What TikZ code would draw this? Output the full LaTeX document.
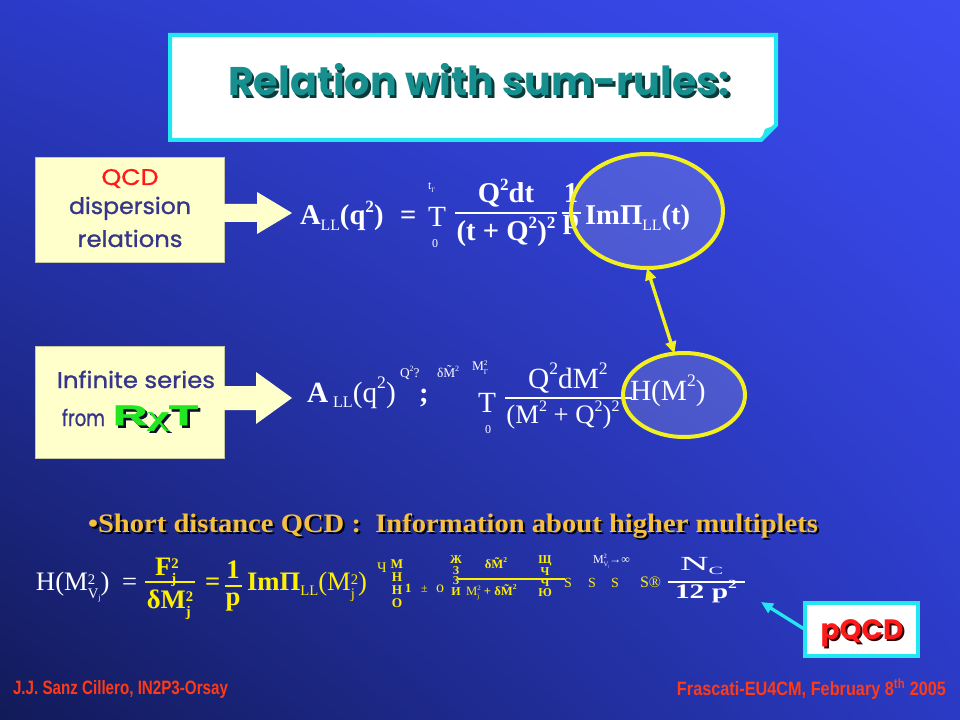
\documentclass[tikz,border=0pt]{standalone}
\usepackage{fontspec}
\usepackage{graphicx}
\setmainfont{Liberation Serif}
\newfontfamily\comic{Poppins}
\newfontfamily\comicf{Poppins}[FakeBold=1]
\newfontfamily\arialf{Liberation Sans}
\newfontfamily\arialfb{Liberation Sans Bold}[FakeBold=2]
\usetikzlibrary{arrows.meta,shapes.geometric,shadings}
\definecolor{bgUL}{HTML}{2B3BC8}
\definecolor{bgUR}{HTML}{3C4CF2}
\definecolor{bgLL}{HTML}{121A58}
\definecolor{bgLR}{HTML}{2A3AC4}
\definecolor{cyanb}{HTML}{22E6F0}
\definecolor{ttlcol}{HTML}{178F8F}
\definecolor{ttlshadow}{HTML}{0B3A3A}
\definecolor{boxfill}{HTML}{FFFFCC}
\definecolor{boxline}{HTML}{C8C8A0}
\definecolor{boxtext}{HTML}{35358A}
\definecolor{qcdred}{HTML}{FF1A1A}
\definecolor{rxtgreen}{HTML}{22E622}
\definecolor{yel}{HTML}{F2F020}
\definecolor{gold}{HTML}{F5C040}
\definecolor{fyel}{HTML}{FFF000}
\definecolor{footred}{HTML}{FF3A14}
\definecolor{shadowc}{HTML}{0A0F30}
\makeatletter
\newcommand\hi[1]{\raisebox{0.45em}{\fontsize{\fpeval{0.6*\f@size}}{0}\selectfont #1}}
\newcommand\lo[1]{\raisebox{-0.2em}{\fontsize{\fpeval{0.55*\f@size}}{0}\selectfont #1}}
\newcommand\stk[2]{\raisebox{-0.3em}{\fontsize{\fpeval{0.55*\f@size}}{\fpeval{0.6*\f@size}}\selectfont\shortstack[l]{#1\\#2}}}
\makeatother
\begin{document}
\begin{tikzpicture}[x=0.75pt,y=-0.75pt,
  every node/.style={inner sep=0pt, outer sep=0pt},
  fb/.style={text=white, font=\bfseries\fontsize{21.5}{24}\selectfont},
  fr/.style={text=white, font=\fontsize{22}{24}\selectfont},
  sm/.style={text=white, font=\fontsize{9}{10}\selectfont},
  bw/.style={text=white, font=\fontsize{20}{22}\selectfont},
  bwb/.style={text=white, font=\bfseries\fontsize{20}{22}\selectfont},
  byb/.style={text=fyel, font=\bfseries\fontsize{20}{22}\selectfont},
  byr/.style={text=fyel, font=\fontsize{10.5}{12}\selectfont},
  bys/.style={text=fyel, font=\bfseries\fontsize{9.5}{10}\selectfont},
  stack/.style={align=center, text=fyel, font=\bfseries\fontsize{9}{7.8}\selectfont},
  ybox/.style={draw=boxline, line width=0.6pt, fill=boxfill},
  boxtxt/.style={text=boxtext, font=\comicf\fontsize{17}{19}\selectfont, anchor=base},
  oval/.style={ellipse, draw=yel, line width=3pt, fill=white, fill opacity=0.15},
  fracbar/.style={line width=1pt},
]
\useasboundingbox (0,0) rectangle (960,720);
\shade[upper left=bgUL, upper right=bgUR, lower left=bgLL, lower right=bgLR] (0,0) rectangle (960,720);

% title
\draw[fill=white, draw=cyanb, line width=3pt] (170,35) -- (776,35) -- (776,125) -- (761,140) -- (170,140) -- cycle;
\fill[cyanb] (761,140) -- (776,125) -- (765,129) -- cycle;
\node[anchor=base, text=ttlshadow, font=\comic\bfseries\fontsize{30}{32}\selectfont] (titles) at (481.5,98.5) {\resizebox{376.5pt}{\height}{Relation with sum-rules:}};
\node[anchor=base, text=ttlcol, font=\comic\bfseries\fontsize{30}{32}\selectfont] (title) at (479,96) {\resizebox{376.5pt}{\height}{Relation with sum-rules:}};

% left boxes
\node[ybox, minimum width=141.75pt, minimum height=78.75pt] (qbox) at (129.5,209.5) {};
\fill[boxfill] (222,204) -- (257,204) -- (257,192) -- (292,213) -- (257,234) -- (257,222) -- (222,222) -- cycle;
\node[boxtxt, text=qcdred] (q1) at (130,185) {\resizebox{42.75pt}{\height}{QCD}};
\node[boxtxt] (q2) at (130,214) {\resizebox{91.5pt}{\height}{dispersion}};
\node[boxtxt] (q3) at (130,247) {\resizebox{78.75pt}{\height}{relations}};

\node[ybox, minimum width=141.75pt, minimum height=84pt] (rbox) at (129.5,402) {};
\fill[boxfill] (222,386) -- (256,386) -- (256,372) -- (292,398) -- (256,424) -- (256,410) -- (222,410) -- cycle;
\node[boxtxt] (i1) at (136,388) {\resizebox{118.5pt}{\height}{Infinite series}};
\node[boxtxt, anchor=base west] (i2) at (62,426) {\resizebox{32.25pt}{\height}{from}};
\node[anchor=base west, text=shadowc, font=\arialfb\fontsize{21}{22}\selectfont] (i3s) at (115.5,427.5) {\resizebox{63.75pt}{\height}{R{\rmfamily\bfseries χ}T}};
\node[anchor=base west, text=rxtgreen, font=\arialfb\fontsize{21}{22}\selectfont] (i3) at (113,425) {\resizebox{63.75pt}{\height}{R{\rmfamily\bfseries χ}T}};

% formula 1
\node[fb, anchor=base west] (f1A) at (300,225) {A\lo{\mdseries LL}(q\hi{2})};
\node[fb, anchor=base west] (f1eq) at (400,225) {=};
\node[fr, anchor=base west] (f1int) at (428,227) {T};
\node[sm, anchor=base west] (f1up) at (428,190) {t\lo{Γ}};
\node[sm, anchor=base west] (f1lo) at (432,248) {0};
\node[fb, anchor=base] (f1num) at (506,203) {Q\hi{2}dt};
\draw[white, fracbar] (455,213) -- (557,213);
\node[fb, anchor=base] (f1den) at (506,241) {(t + Q\hi{2})\hi{2}};
\node[fb, anchor=base] (f1one) at (571,203) {1};
\draw[white, fracbar] (562,213) -- (581,213);
\node[fb, anchor=base] (f1p) at (571,229) {p};
\node[fb, anchor=base west] (f1im) at (585,225) {ImΠ\lo{\mdseries LL}(t)};

% formula 2
\node[fr, anchor=base west] (f2A) at (307,402) {{\bfseries A}\,\lo{LL}(q\hi{2})};
\node[sm, anchor=base west, font=\fontsize{10}{11}\selectfont] (f2q) at (400,377) {Q\hi{2}?};
\node[sm, anchor=base west, font=\fontsize{10}{11}\selectfont] (f2dm) at (437,377) {δ\~{M}\hi{2}};
\node[sm, anchor=base west, font=\fontsize{10}{11}\selectfont] (f2mg) at (472,370) {M\stk{2}{Γ}};
\node[fb, anchor=base west] (f2semi) at (419,402) {;};
\node[fr, anchor=base west] (f2int) at (478,412) {T};
\node[sm, anchor=base west] (f2zero) at (485,433) {0};
\node[fr, anchor=base] (f2num) at (568,388) {Q\hi{2}dM\hi{2}};
\draw[white, fracbar] (505,398) -- (632,398);
\node[fr, anchor=base, font=\fontsize{20}{22}\selectfont] (f2den) at (563,423) {(M\hi{2} + Q\hi{2})\hi{2}};
\node[fr, anchor=base west] (f2H) at (630,400) {H(M\hi{2})};

% ellipses and double arrow
\node[oval, minimum width=114pt, minimum height=85.5pt] (e1) at (647,211) {};
\node[oval, minimum width=91.5pt, minimum height=63pt] (e2) at (684,395) {};
\draw[yel, line width=2.5pt, {Triangle[length=9pt,width=8pt]}-{Triangle[length=9pt,width=8pt]}] (e1.south) -- (e2.103);

% bullet line
\node[anchor=base west, text=black, font=\bfseries\fontsize{20}{22}\selectfont] (buls) at (90,534) {\resizebox{547.5pt}{\height}{•Short distance QCD :\ \ Information about higher multiplets}};
\node[anchor=base west, text=gold, font=\bfseries\fontsize{20}{22}\selectfont] (bul) at (88,532) {\resizebox{547.5pt}{\height}{•Short distance QCD :\ \ Information about higher multiplets}};

% bottom formula
\node[bw, anchor=base west] (bH) at (36,590) {H(M\stk{2}{V\lo{j}})};
\node[bw, anchor=base west] (beq1) at (122,590) {=};
\node[byb, anchor=base] (bFn) at (167,575) {F\stk{2}{j}};
\draw[fyel, fracbar] (145,582) -- (195,582);
\node[byb, anchor=base] (bFd) at (170,608) {δM\stk{2}{j}};
\node[byb, anchor=base west] (beq2) at (205,590) {=};
\node[byb, anchor=base] (bone) at (233,578) {1};
\draw[fyel, fracbar] (225,586) -- (242,586);
\node[byb, anchor=base] (bp) at (233,605) {p};
\node[byb, anchor=base west] (bIm) at (247,590) {ImΠ\lo{\mdseries LL}{\mdseries (M\stk{2}{j})}};
\node[bys, anchor=base west, font=\fontsize{11}{12}\selectfont] (bch) at (377,572) {Ч};
\node[stack, anchor=north, font=\bfseries\fontsize{10}{9.8}\selectfont] (bst1) at (397,560) {M\\H\\H\\O};
\node[bys, anchor=base west] (bone2) at (405,592) {1};
\node[bys, anchor=base west, font=\fontsize{9}{10}\selectfont] (bpm) at (421,592) {±};
\node[bys, anchor=base west, font=\fontsize{12}{12}\selectfont] (bo) at (436,592) {o};
\node[stack, anchor=north] (bst2) at (456,556) {Ж\\З\\З\\И};
\node[bys, anchor=base] (bfn) at (496,568) {δ\~{M}\hi{2}};
\draw[fyel, line width=0.8pt] (458,579) -- (565,579);
\node[bys, anchor=base west] (bfd) at (466,595) {{\mdseries M\stk{2}{j}} + δ\~{M}\hi{2}};
\node[stack, anchor=north] (bst3) at (545,556) {Щ\\Ч\\Ч\\Ю};
\node[byr, anchor=base west] (bs1) at (564,587) {S};
\node[byr, anchor=base west] (bs2) at (588,587) {S};
\node[bys, anchor=base west, text=white, font=\fontsize{9}{10}\selectfont] (blim) at (593,563) {M\stk{2}{V\lo{j}}→∞};
\node[byr, anchor=base west] (bs3) at (611,587) {S};
\node[byr, anchor=base west, font=\fontsize{12}{12}\selectfont] (bs4) at (640,587) {S®};
\node[bw, anchor=base west, font=\fontsize{15}{17}\selectfont] (bNc) at (680,570) {\resizebox{32.25pt}{\height}{N\lo{C}}};
\draw[white, fracbar] (668,582) -- (745,582);
\node[bwb, anchor=base west, font=\bfseries\fontsize{15.5}{17}\selectfont] (b12) at (675,598) {\resizebox{46.5pt}{\height}{12 p\hi{2}}};

% pQCD box
\node[draw=cyanb, line width=3pt, fill=white, minimum width=84.75pt, minimum height=39.75pt] (pq) at (861.5,629.5) {};
\node[anchor=base, text=black!80!red, font=\comic\bfseries\fontsize{21}{22}\selectfont] (pqs) at (864,641) {pQCD};
\node[anchor=base, text=qcdred, font=\comic\bfseries\fontsize{21}{22}\selectfont] (pqt) at (862,639) {pQCD};
\coordinate (tipc) at (761,602);
\draw[cyanb, line width=2.5pt, -{Triangle[length=9pt,width=8pt]}] (pq.west) -- (tipc);

% footer
\node[anchor=base west, text=footred, font=\arialf\bfseries\fontsize{14.5}{16}\selectfont] (fl) at (13,694) {\resizebox{161.25pt}{\height}{J.J. Sanz Cillero, IN2P3-Orsay}};
\node[anchor=base east, text=footred, font=\arialf\bfseries\fontsize{14.5}{16}\selectfont] (frt) at (946,695) {\resizebox{201.75pt}{\height}{Frascati-EU4CM, February 8\textsuperscript{th} 2005}};
\end{tikzpicture}
\end{document}
